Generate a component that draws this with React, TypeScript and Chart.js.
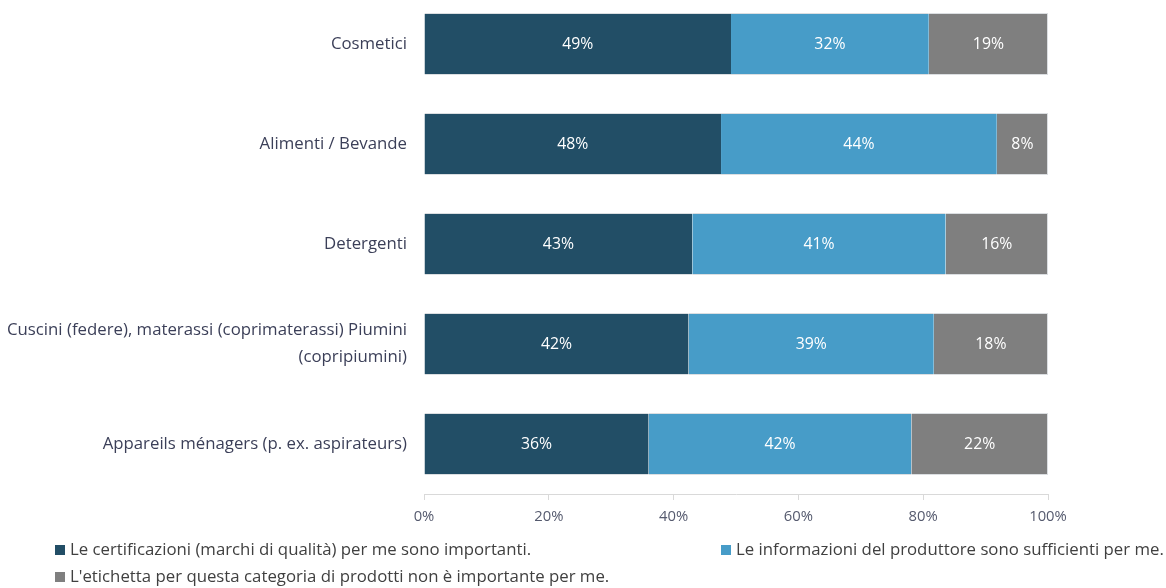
import React, { useEffect, useRef } from "react";
import { Chart, registerables } from "chart.js";

Chart.register(...registerables);

const categories: (string | string[])[] = [
  "Cosmetici",
  "Alimenti / Bevande",
  "Detergenti",
  ["Cuscini (federe), materassi (coprimaterassi) Piumini", "(copripiumini)"],
  "Appareils ménagers (p. ex. aspirateurs)",
];

const seriesNames = [
  "Le certificazioni (marchi di qualità) per me sono importanti.",
  "Le informazioni del produttore sono sufficienti per me.",
  "L'etichetta per questa categoria di prodotti non è importante per me.",
];

const certificazioni = [49.2, 47.6, 43.0, 42.4, 36.0];
const informazioni = [31.7, 44.2, 40.6, 39.3, 42.1];
const nonImportante = [19.1, 8.2, 16.4, 18.3, 21.9];

const xTicks = [0, 20, 40, 60, 80, 100];

const colors = ["#224e66", "#479cc8", "#7f7f7f"];

const FONT = "'Open Sans', 'Noto Sans', sans-serif";

const barLabelsPlugin = {
  id: "barLabels",
  afterDatasetsDraw(chart: any) {
    const ctx = chart.ctx;
    ctx.save();
    ctx.font = `15.8px ${FONT}`;
    ctx.fillStyle = "#ffffff";
    ctx.textAlign = "center";
    ctx.textBaseline = "middle";
    chart.data.datasets.forEach((ds: any, di: number) => {
      const meta = chart.getDatasetMeta(di);
      meta.data.forEach((el: any, i: number) => {
        const p = el.getProps(["x", "y", "base"], true);
        const cx = (p.x + p.base) / 2;
        ctx.fillText(Math.round(ds.data[i]) + "%", cx, p.y);
      });
    });
    ctx.restore();
  },
};

const customLegendPlugin = {
  id: "customLegend",
  afterDraw(chart: any) {
    const ctx = chart.ctx;
    const positions = [
      [55, 556],
      [721, 556],
      [55, 583],
    ];
    ctx.save();
    ctx.font = `16.8px ${FONT}`;
    ctx.textBaseline = "middle";
    ctx.textAlign = "left";
    chart.data.datasets.forEach((ds: any, i: number) => {
      const [x, y] = positions[i];
      ctx.fillStyle = ds.backgroundColor;
      ctx.fillRect(x, y - 5, 10, 10);
      ctx.fillStyle = "#404040";
      ctx.fillText(ds.label, x + 15, y);
    });
    ctx.restore();
  },
};

export default function App() {
  const ref = useRef<HTMLCanvasElement | null>(null);

  useEffect(() => {
    if (!ref.current) return;
    const values = [certificazioni, informazioni, nonImportante];
    const chart = new Chart(ref.current, {
      type: "bar",
      data: {
        labels: categories as any,
        datasets: values.map((v, i) => ({
          label: seriesNames[i],
          data: v,
          backgroundColor: colors[i],
          borderColor: "rgba(215,218,222,0.9)",
          borderWidth: { top: 1, bottom: 1, left: 0, right: i === 2 ? 1 : 0 },
          borderSkipped: false,
          barPercentage: 0.62,
          categoryPercentage: 1,
        })),
      },
      options: {
        indexAxis: "y",
        animation: false,
        responsive: false,
        maintainAspectRatio: false,
        layout: { padding: { top: 0, right: 118, bottom: 64, left: 0 } },
        plugins: {
          legend: { display: false },
          tooltip: { enabled: false },
        },
        scales: {
          x: {
            stacked: true,
            min: 0,
            max: 100,
            afterBuildTicks: (s: any) => {
              s.ticks = xTicks.map((v) => ({ value: v }));
            },
            afterFit: (s: any) => {
              s.height = 30;
            },
            grid: {
              display: true,
              drawOnChartArea: false,
              drawTicks: true,
              tickLength: 6,
              color: "#d9d9d9",
            },
            border: { display: true, color: "#d9d9d9" },
            ticks: {
              padding: 8,
              color: "#555a6e",
              font: { family: FONT, size: 14.8 },
              callback: (v: any) => v + "%",
            },
          },
          y: {
            stacked: true,
            afterFit: (s: any) => {
              s.width = 424;
              s.paddingTop = 0;
              s.paddingBottom = 0;
            },
            grid: { display: false, drawTicks: false, tickLength: 0 },
            border: { display: false },
            ticks: {
              padding: 17,
              color: "#3b3f58",
              font: { family: FONT, size: 16.8, lineHeight: 1.6 },
            },
          },
        },
      },
      plugins: [barLabelsPlugin, customLegendPlugin],
    } as any);
    return () => chart.destroy();
  }, []);

  return (
    <div style={{ position: "absolute", left: 0, top: -6, width: 1166, height: 594 }}>
      <canvas ref={ref} width={1166} height={594} style={{ width: 1166, height: 594 }} />
    </div>
  );
}
